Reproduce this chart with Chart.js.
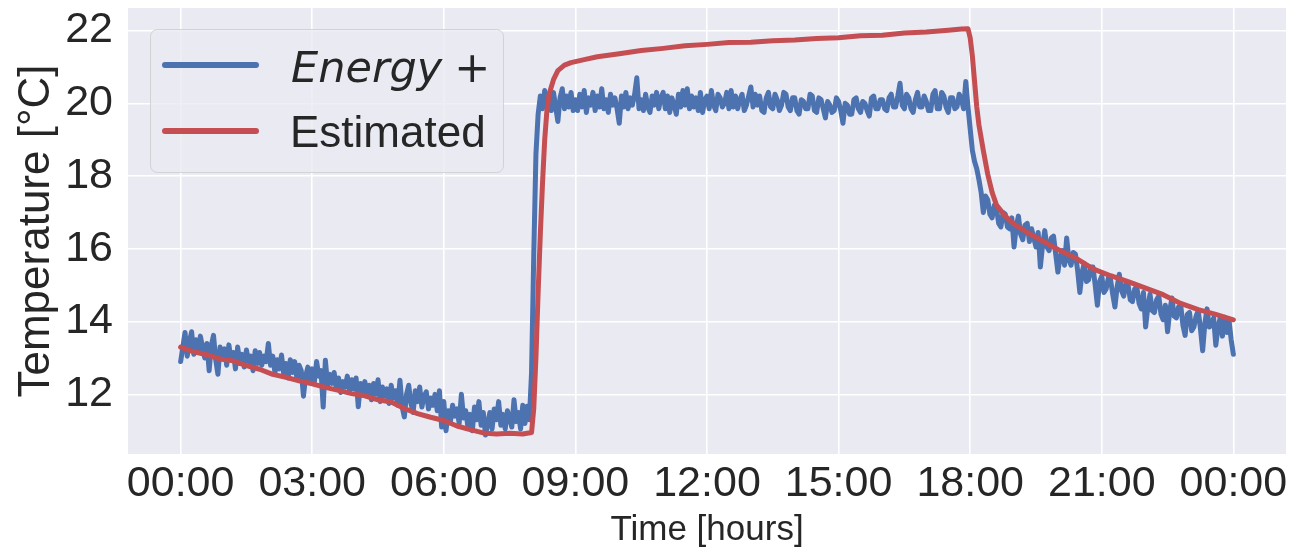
<!DOCTYPE html>
<html>
<head>
<meta charset="utf-8">
<script src="https://cdn.jsdelivr.net/npm/chart.js@4.4.1/dist/chart.umd.min.js"></script>
<style>
  html, body { margin: 0; padding: 0; background: #ffffff; }
  canvas { display: block; }
</style>
</head>
<body>
<canvas id="chart" width="1293" height="553"></canvas>
<script>
// Simulated (Energy+) zone temperature, sampled every 0.05 h (3 min) from 00:00
const energyStartHour = 0;
const energyStepHours = 0.05;
const energyPlusTemps = [
  // 00:00
  12.90, 13.30, 13.70, 13.05, 13.45, 13.72, 13.10, 13.50, 13.20, 13.60,
  13.30, 13.00, 13.40, 12.65, 13.35, 13.62, 12.95, 12.55, 13.30, 13.05,
  // 01:00
  13.25, 12.80, 13.36, 12.95, 13.15, 12.70, 13.30, 12.85, 13.10, 12.75,
  13.22, 12.90, 13.05, 12.65, 13.20, 12.85, 13.15, 12.80, 13.05, 12.90,
  // 02:00
  13.40, 12.80, 13.05, 12.60, 12.95, 12.70, 13.08, 12.55, 12.85, 12.45,
  12.95, 12.60, 12.90, 12.45, 12.80, 12.65, 11.95, 12.50, 12.75, 12.40,
  // 03:00
  12.70, 12.35, 12.90, 12.50, 12.65, 11.65, 12.94, 12.25, 12.55, 12.30,
  12.60, 12.15, 12.45, 12.05, 12.35, 12.20, 12.50, 12.10, 12.40, 12.15,
  // 04:00
  12.45, 11.66, 12.30, 12.05, 12.35, 11.95, 12.25, 11.85, 12.30, 12.00,
  12.40, 11.80, 12.20, 11.95, 12.15, 11.75, 12.25, 11.90, 12.10, 11.70,
  // 05:00
  12.39, 11.65, 11.38, 12.00, 12.25, 11.75, 11.50, 12.10, 11.80, 12.20,
  11.65, 11.95, 12.07, 11.60, 11.90, 11.70, 12.00, 11.55, 12.10, 11.10,
  // 06:00
  11.80, 11.00, 11.55, 11.25, 11.70, 11.40, 11.60, 11.20, 12.00, 11.35,
  11.55, 11.10, 11.45, 11.00, 11.65, 11.30, 11.80, 11.15, 11.50, 10.88,
  // 07:00
  11.20, 11.50, 11.05, 11.60, 11.30, 11.80, 11.15, 11.45, 11.05, 11.55,
  11.35, 11.10, 11.85, 11.25, 11.50, 11.05, 11.70, 11.20, 11.67, 11.30,
  // 08:00
  12.60, 15.80, 18.60, 19.70, 20.20, 19.85, 20.35, 19.95, 20.25, 19.80,
  20.30, 19.90, 19.50, 20.15, 20.40, 19.85, 20.20, 19.90, 20.30, 19.80,
  // 09:00
  20.10, 19.80, 20.25, 19.90, 20.35, 19.75, 20.15, 19.95, 20.30, 19.80,
  20.20, 19.90, 20.40, 19.85, 20.10, 19.75, 20.25, 19.95, 20.15, 19.85,
  // 10:00
  19.45, 20.20, 19.90, 20.30, 19.85, 20.15, 19.95, 20.25, 20.70, 19.85,
  20.10, 19.80, 20.25, 19.90, 19.75, 20.20, 19.95, 20.30, 19.85, 20.15,
  // 11:00
  20.30, 19.85, 20.20, 19.75, 20.15, 19.95, 19.70, 20.25, 19.90, 20.35,
  19.95, 20.40, 19.85, 20.20, 19.90, 20.15, 19.80, 20.30, 19.75, 20.10,
  // 12:00
  20.20, 19.85, 20.35, 19.95, 19.80, 20.25, 20.15, 19.90, 20.00, 20.30,
  19.85, 20.35, 19.90, 20.20, 19.85, 20.10, 20.25, 19.80, 19.95, 20.20,
  // 13:00
  20.45, 19.90, 20.25, 19.95, 20.20, 19.80, 19.75, 20.15, 20.30, 19.90,
  19.85, 20.25, 20.10, 19.80, 19.95, 20.30, 20.25, 19.90, 19.80, 20.15,
  // 14:00
  20.15, 19.80, 19.70, 20.10, 20.05, 19.85, 19.85, 20.25, 20.20, 19.80,
  19.75, 20.15, 20.10, 19.85, 19.60, 20.05, 19.95, 19.75, 19.80, 20.15,
  // 15:00
  20.05, 19.80, 19.45, 20.00, 19.95, 19.70, 19.70, 20.10, 20.15, 19.85,
  19.75, 20.05, 20.00, 19.80, 19.65, 20.15, 20.20, 19.85, 19.85, 20.10,
  // 16:00
  20.10, 19.85, 19.80, 20.15, 20.25, 19.90, 19.90, 20.20, 20.55, 19.95,
  19.85, 20.25, 20.15, 19.85, 19.75, 20.10, 20.30, 19.90, 19.90, 20.20,
  // 17:00
  20.05, 19.80, 19.80, 20.25, 20.35, 19.85, 19.85, 20.30, 20.20, 19.90,
  19.75, 20.15, 20.15, 19.85, 19.90, 20.25, 20.10, 19.85, 20.60, 19.90,
  // 18:00
  19.30, 18.70, 18.40, 18.20, 17.90, 17.55, 17.00, 17.45, 17.35, 16.95,
  16.85, 17.20, 17.10, 16.70, 16.60, 17.00, 16.95, 16.60, 16.55, 16.85,
  // 19:00
  16.05, 16.60, 16.90, 16.40, 16.25, 16.65, 16.70, 16.20, 16.55, 16.30,
  16.05, 16.45, 15.50, 16.10, 16.50, 16.05, 15.95, 16.30, 16.35, 15.85,
  // 20:00
  15.36, 15.80, 15.95, 15.55, 16.30, 15.70, 15.55, 15.90, 15.85, 15.40,
  14.80, 15.35, 15.60, 15.10, 15.15, 15.50, 15.50, 15.00, 14.45, 15.10,
  // 21:00
  15.25, 14.80, 14.90, 15.20, 15.15, 14.75, 14.40, 14.95, 15.30, 14.85,
  14.70, 15.05, 15.00, 14.60, 14.55, 14.90, 14.95, 14.50, 14.35, 14.80,
  // 22:00
  13.85, 14.40, 14.75, 14.30, 14.25, 14.60, 14.70, 14.20, 14.05, 14.45,
  13.72, 14.30, 14.65, 14.15, 14.10, 14.40, 14.45, 13.90, 13.62, 14.20,
  // 23:00
  14.25, 13.75, 13.85, 14.15, 14.30, 13.80, 13.20, 13.95, 14.35, 13.85,
  13.90, 14.10, 13.35, 13.85, 14.10, 13.60, 14.12, 13.70, 14.05, 13.50,
  // 24:00
  13.10
];

// Estimated zone temperature
const estimatedHours = [
  0.0, 0.3, 0.6, 0.9, 1.2, 1.5, 1.8, 2.1, 2.4, 2.7,
  3.0, 3.3, 3.6, 3.9, 4.2, 4.5, 4.8, 5.1, 5.4, 5.7,
  6.0, 6.3, 6.6, 6.9, 7.2, 7.5, 7.8, 8.0, 8.05, 8.1,
  8.15, 8.2, 8.25, 8.3, 8.35, 8.4, 8.5, 8.6, 8.75, 8.9,
  9.2, 9.5, 10.0, 10.5, 11.0, 11.5, 12.0, 12.5, 13.0, 13.5,
  14.0, 14.5, 15.0, 15.5, 16.0, 16.5, 17.0, 17.5, 17.8, 17.95,
  18.0, 18.05, 18.1, 18.15, 18.2, 18.3, 18.4, 18.5, 18.6, 18.8,
  19.0, 19.3, 19.6, 20.0, 20.4, 20.8, 21.2, 21.6, 22.0, 22.4,
  22.8, 23.2, 23.6, 24.0
];
const estimatedTemps = [
  13.30, 13.17, 13.09, 12.97, 12.92, 12.79, 12.69, 12.55, 12.47, 12.37,
  12.29, 12.19, 12.11, 12.02, 11.96, 11.85, 11.79, 11.61, 11.47, 11.37,
  11.28, 11.13, 11.03, 10.94, 10.91, 10.93, 10.91, 10.95, 11.60, 13.00,
  14.80, 16.40, 17.80, 19.00, 19.80, 20.25, 20.65, 20.90, 21.05, 21.12,
  21.20, 21.28, 21.36, 21.45, 21.51, 21.58, 21.62, 21.67, 21.68, 21.72,
  21.74, 21.78, 21.80, 21.86, 21.87, 21.93, 21.96, 22.01, 22.04, 22.05,
  21.80, 21.30, 20.60, 19.90, 19.40, 18.70, 18.05, 17.55, 17.20, 16.90,
  16.68, 16.45, 16.25, 15.98, 15.75, 15.45, 15.26, 15.10, 14.92, 14.74,
  14.50, 14.33, 14.20, 14.05
];

const seriesLabels = ['Energy +', 'Estimated'];
const xTickHours = [0, 3, 6, 9, 12, 15, 18, 21, 24];
const xTickLabels = ['00:00', '03:00', '06:00', '09:00', '12:00', '15:00', '18:00', '21:00', '00:00'];
const yTickValues = [12, 14, 16, 18, 20, 22];

const BLUE = '#4C72B0';
const RED = '#C44E52';
const AXES_BG = '#EAEAF2';
const TEXT = '#262626';
const SANS = '"Liberation Sans", Arial, Helvetica, sans-serif';

const energyPoints = energyPlusTemps.map((v, i) => ({ x: energyStartHour + i * energyStepHours, y: v }));
const estimatedPoints = estimatedTemps.map((v, i) => ({ x: estimatedHours[i], y: v }));

// Axes background
const axesBackground = {
  id: 'axesBackground',
  beforeDraw(chart) {
    const { ctx, chartArea: a } = chart;
    ctx.save();
    ctx.fillStyle = AXES_BG;
    ctx.fillRect(a.left, a.top, a.right - a.left, a.bottom - a.top);
    ctx.restore();
  }
};

// Legend box in the upper-left corner of the axes
const cornerLegend = {
  id: 'cornerLegend',
  afterDraw(chart) {
    const { ctx } = chart;
    const bx = 150, by = 29, bw = 353, bh = 143, r = 7;
    ctx.save();
    ctx.beginPath();
    ctx.roundRect(bx + 0.5, by + 0.5, bw, bh, r);
    ctx.fillStyle = 'rgba(234,234,242,0.8)';
    ctx.fill();
    ctx.strokeStyle = 'rgba(204,204,204,0.8)';
    ctx.lineWidth = 1;
    ctx.stroke();

    const rows = [
      { color: BLUE, y: 65 },
      { color: RED, y: 131 }
    ];
    ctx.lineCap = 'round';
    ctx.lineWidth = 6;
    rows.forEach(row => {
      ctx.beginPath();
      ctx.strokeStyle = row.color;
      ctx.moveTo(165, row.y);
      ctx.lineTo(256, row.y);
      ctx.stroke();
    });

    ctx.fillStyle = TEXT;
    ctx.textBaseline = 'alphabetic';
    ctx.textAlign = 'left';
    // "Energy +" : italic word, upright operator
    const word = seriesLabels[0].split(' ')[0];
    const op = seriesLabels[0].split(' ')[1];
    ctx.font = 'italic 43px "DejaVu Sans", sans-serif';
    ctx.fillText(word, 291, 82);
    const w = ctx.measureText(word).width;
    ctx.font = '43px "DejaVu Sans", sans-serif';
    ctx.fillText(op, 291 + w + 12, 82);

    ctx.font = '44px ' + SANS;
    ctx.fillText(seriesLabels[1], 290, 147);
    ctx.restore();
  }
};

new Chart(document.getElementById('chart'), {
  type: 'line',
  data: {
    datasets: [
      {
        label: seriesLabels[0],
        data: energyPoints,
        borderColor: BLUE,
        backgroundColor: BLUE,
        borderWidth: 5,
        pointRadius: 0,
        tension: 0,
        borderJoinStyle: 'round',
        borderCapStyle: 'round',
        order: 2
      },
      {
        label: seriesLabels[1],
        data: estimatedPoints,
        borderColor: RED,
        backgroundColor: RED,
        borderWidth: 5,
        pointRadius: 0,
        tension: 0,
        borderJoinStyle: 'round',
        borderCapStyle: 'round',
        order: 1
      }
    ]
  },
  options: {
    responsive: false,
    animation: false,
    layout: { padding: { top: 8, right: 7, left: 0, bottom: 0 } },
    plugins: {
      legend: { display: false },
      tooltip: { enabled: false }
    },
    scales: {
      x: {
        type: 'linear',
        min: -1.2,
        max: 25.2,
        afterBuildTicks: s => { s.ticks = xTickHours.map(v => ({ value: v })); },
        afterFit: s => { s.height = 99; s.paddingLeft = 0; s.paddingRight = 0; },
        grid: { color: '#ffffff', lineWidth: 1.6, drawTicks: false },
        border: { display: false },
        ticks: {
          padding: 4,
          maxRotation: 0,
          autoSkip: false,
          color: TEXT,
          font: { family: SANS, size: 43 },
          callback: v => xTickLabels[xTickHours.indexOf(v)]
        },
        title: {
          display: true,
          text: 'Time [hours]',
          color: TEXT,
          font: { family: SANS, size: 35 },
          padding: { top: 0, bottom: 2 }
        }
      },
      y: {
        min: 10.36,
        max: 22.62,
        afterBuildTicks: s => { s.ticks = yTickValues.map(v => ({ value: v })); },
        afterFit: s => { s.width = 128; s.paddingTop = 0; s.paddingBottom = 0; },
        grid: { color: '#ffffff', lineWidth: 1.6, drawTicks: false },
        border: { display: false },
        ticks: {
          padding: 15,
          color: TEXT,
          font: { family: SANS, size: 43 },
          callback: v => String(v)
        },
        title: {
          display: true,
          text: 'Temperature [°C]',
          color: TEXT,
          font: { family: SANS, size: 44 },
          padding: { top: 10, bottom: 0 }
        }
      }
    }
  },
  plugins: [axesBackground, cornerLegend]
});
</script>
</body>
</html>
